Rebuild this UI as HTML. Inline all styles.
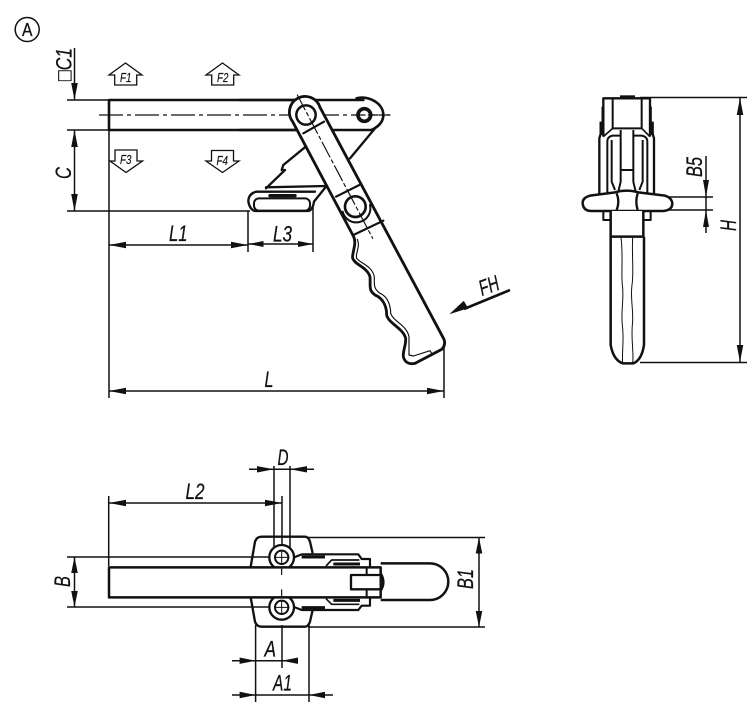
<!DOCTYPE html>
<html><head><meta charset="utf-8"><style>
html,body{margin:0;padding:0;background:#fff}
svg{display:block}
text{font-family:"Liberation Sans",sans-serif;font-style:italic;font-size:22px;fill:#111;stroke:#111;stroke-width:.25px}
.f{font-size:12.500px;stroke-width:.15px}
</style></head><body>
<svg width="750" height="705" viewBox="0 0 750 705" xmlns="http://www.w3.org/2000/svg">
<rect width="750" height="705" fill="#fff"/>
<circle cx="27.200" cy="29.500" r="12" fill="none" stroke="#111" stroke-width="1.500"/>
<text x="22" y="36" textLength="10.500" lengthAdjust="spacingAndGlyphs" style="font-style:normal;font-size:18px">A</text>

<!-- SIDE VIEW dimensions -->
<g stroke="#111" stroke-width="1.500" fill="none">
<path d="M74.500 48V100M74.500 130V211M67 100H109M67 130H109M67 211H250M109 130V398M109 245H248M248 211V252M109 391H444M444 345V398M248 244H313M313 205V252"/>
</g>
<g fill="#111">
<path d="M74.500 100l-3.300-17h6.600zM74.500 130l-3.300 17h6.600zM74.500 211l-3.300-17h6.600z"/>
<path d="M109 245l17-3.200v6.400zM248 245l-17-3.200v6.400zM248.500 244l15-3v6zM313 244l-15-3v6zM109 391l17-3.200v6.400zM444 391l-17-3.200v6.400z"/>
<path d="M449.300 314.300l14.500-13.500 4.200 7.500z"/>
</g>
<path d="M510 290L464 309" stroke="#111" stroke-width="2.600"/>

<!-- force symbols -->
<g fill="#fff" stroke="#111" stroke-width="1.300">
<path d="M125.500 63L109 75H114.700V85H136.700V75H142Z"/>
<path d="M222.500 63L206 75H211.700V85H233.700V75H239Z"/>
<path d="M126 172.500L110 161H115V150H137V161H142.500Z"/>
<path d="M222.500 172.500L206 161H211.500V150.500H233.500V161H239Z"/>
</g>
<text class="f" x="120" y="82" textLength="11.500" lengthAdjust="spacingAndGlyphs">F1</text>
<text class="f" x="217" y="82" textLength="11.500" lengthAdjust="spacingAndGlyphs">F2</text>
<text class="f" x="120" y="164" textLength="11.500" lengthAdjust="spacingAndGlyphs">F3</text>
<text class="f" x="216.500" y="165" textLength="11.500" lengthAdjust="spacingAndGlyphs">F4</text>

<!-- arm left part -->
<path d="M109 100H300M109 130H300M109 99V131" stroke="#111" stroke-width="2.600" fill="none"/>
<path d="M99 115H390" stroke="#111" stroke-width="1.300" stroke-dasharray="24 4 4 4" fill="none"/>

<g transform="translate(240 80) scale(.33333)" fill="none" stroke="#111" stroke-linejoin="round" stroke-linecap="round">
 <!-- base -->
 <path d="M197 200L130 255L125 270L135 270L78 325" stroke-width="7"/>
 <path d="M78 322L258 318" stroke-width="7"/>
 <path d="M405 145L330 235" stroke-width="7"/>
 <path d="M225 335H50Q25 340 25 365Q30 390 45 393H205Q218 390 222 365L258 320" stroke-width="7" fill="#fff"/>
 <rect x="42" y="355" width="168" height="37" rx="15" stroke-width="6" fill="#fff"/>
 <path d="M90 347H165" stroke-width="10"/>
 <!-- arm end -->
 <path d="M0 60H370M0 150H395" stroke-width="7.800"/>
 <path d="M350 55C385 45 430 70 430 105C430 125 415 140 395 150" stroke-width="8"/>
 <circle cx="373" cy="105" r="19" stroke-width="11" fill="#fff"/>
 <path d="M345 105H450" stroke-width="3.500" stroke-dasharray="30 10"/>
 <!-- link + handle -->
 <path d="M158 125A47 47 0 1 1 240 82L612 778Q618 795 605 808L525 850C510 853 495 850 490 830C488 810 498 800 497 775C490 745 445 730 440 705C440 680 430 655 405 645C385 630 392 620 390 590C380 560 345 555 338 535C335 520 352 490 340 468Z" fill="#fff" stroke-width="8.500"/>
 <path d="M352 478C362 500 345 520 350 535C360 550 395 555 403 590C403 615 400 625 420 640C445 650 452 680 452 700C460 725 500 735 507 770L507 825L520 828L570 812L575 820" stroke-width="3.500"/>
 <path d="M190 160L252 125M288 350L358 315M340 465L430 422" stroke-width="6.500"/>
 <circle cx="198" cy="105" r="29" stroke-width="7.500" fill="#fff"/>
 <circle cx="346" cy="380" r="31" stroke-width="8" fill="#fff"/>
 <path d="M308 395A42 42 0 0 0 390 375" stroke-width="6"/>
 <path d="M172 45L398 475" stroke-width="3.500" stroke-dasharray="50 10 10 10"/>
</g>

<text x="169" y="241" textLength="18.500" lengthAdjust="spacingAndGlyphs">L1</text>
<text x="273" y="241.500" textLength="19" lengthAdjust="spacingAndGlyphs">L3</text>
<text x="264.500" y="387" textLength="9" lengthAdjust="spacingAndGlyphs">L</text>
<text transform="translate(482 296) rotate(-20)" textLength="20" lengthAdjust="spacingAndGlyphs">FH</text>
<text transform="translate(71.700 81) rotate(-90)" textLength="33" lengthAdjust="spacingAndGlyphs">□C1</text>
<text transform="translate(71 179) rotate(-90)" textLength="12" lengthAdjust="spacingAndGlyphs">C</text>

<!-- FRONT VIEW -->
<g stroke="#111" stroke-width="1.500" fill="none">
<path d="M640 97.500H747M640 362.500H747M740 98V362M706 156V233M668 197H713M668 210H713"/>
</g>
<g fill="#111">
<path d="M740 98l-3.300 17h6.600zM740 362l-3.300-17h6.600zM706 197l-3-17h6zM706 210l-3 17h6z"/>
</g>
<g transform="translate(570 85) scale(.33333)" fill="none" stroke="#111" stroke-linejoin="round">
 <path d="M100 155V40H240V155M88 330V160L100 120M252 330V160L240 120" stroke-width="7"/>
 <path d="M150 35H195" stroke-width="8"/>
 <path d="M128 40V130H215V40" stroke-width="6"/>
 <path d="M98 65V150M92 110V150M242 65V150M248 110V150" stroke-width="7"/>
 <path d="M100 155L128 130M240 155L215 130" stroke-width="5"/>
 <path d="M112 325V170Q112 155 128 152H150M232 325V170Q232 155 215 152H192" stroke-width="6"/>
 <path d="M125 165V290L135 315M218 165V290L208 315" stroke-width="6"/>
 <path d="M152 135V290L145 320M190 135V290L197 320M152 255H190" stroke-width="6"/>
 <path d="M100 380V405H122M242 380V405H220" stroke-width="6"/>
 <path d="M135 322L60 332Q37 338 38 355Q40 378 65 378H280Q307 375 307 355Q305 338 285 332L205 322Q170 312 135 322Z" stroke-width="7.500" fill="#fff"/>
 <path d="M140 325Q150 350 140 375M203 325Q195 350 203 375" stroke-width="7"/>
 <path d="M122 378V455H220V378" stroke-width="7.500" fill="#fff"/>
 <path d="M122 455V780Q130 825 158 835H190Q215 825 222 780V455" stroke-width="7.500"/>
 <path d="M153 458C160 510 153 560 157 600C163 640 152 680 157 720C163 770 155 800 158 835M188 458C185 510 192 560 186 600C180 640 192 680 187 720C183 770 192 800 188 835" stroke-width="3"/>
</g>
<text transform="translate(702 177) rotate(-90)" textLength="20" lengthAdjust="spacingAndGlyphs">B5</text>
<text transform="translate(736 231) rotate(-90)" textLength="11" lengthAdjust="spacingAndGlyphs">H</text>

<!-- PLAN VIEW dimensions -->
<g stroke="#111" stroke-width="1.500" fill="none">
<path d="M67 557H270M67 607H270M74.500 557V607M108.700 496V566M109 503H282M282 496V548M274 466V548M290 466V548M249 469.300H314M255.600 625V702M282 625V668M309 625V702M232 660.700H298M232 695H333M308 537.500H485M308 627H485M479 537.500V627"/>
</g>
<g fill="#111">
<path d="M74.500 557l-3.300 16h6.600zM74.500 607l-3.300-16h6.600zM109 503l17-3.200v6.400zM282 503l-17-3.200v6.400zM274 469.300l-17-3.200v6.400zM290 469.300l17-3.200v6.400z"/>
<path d="M255.600 660.700l-16-3.200v6.400zM282 660.700l16-3.200v6.400zM255.600 695l-16-3.200v6.400zM309 695l16-3.200v6.400zM479 537.500l-3.300 16h6.600zM479 627l-3.300-16h6.600z"/>
</g>
<g transform="translate(220 520) scale(.33333)" fill="none" stroke="#111" stroke-linejoin="round">
 <path d="M92 140L105 65Q110 50 125 50H255Q265 50 270 65L278 100M92 232L105 305Q110 320 125 320H255Q265 320 270 305L278 270" stroke-width="7"/>
 <path d="M482 130H630A55 55 0 0 1 630 240H482" stroke-width="7.500" fill="#fff"/>
 <path d="M215 115L245 103H415L425 117H450V140M215 258L245 270H415L425 257H450V234" stroke-width="6.500" fill="#fff"/>
 <path d="M245 111H315M245 263H315M340 132H420M340 241H420" stroke-width="9"/>
 <path d="M318 138L335 120H418M318 236L335 253H418" stroke-width="5"/>
 <circle cx="185" cy="112" r="37" stroke-width="7" fill="#fff"/>
 <circle cx="185" cy="262" r="37" stroke-width="7" fill="#fff"/>
 <circle cx="185" cy="112" r="20" stroke-width="6" fill="#fff"/>
 <circle cx="185" cy="262" r="20" stroke-width="6" fill="#fff"/>
 <path d="M162 112H208M185 90V135M162 262H208M185 240V285" stroke-width="3"/>
 <rect x="-333" y="145" width="771" height="84" fill="#fff" stroke="none"/>
 <path d="M-333 142H482V232H-333ZM482 160Q498 187 482 212" stroke-width="7.500"/>
 <path d="M440 142V165M440 208V232" stroke-width="6"/>
 <rect x="393" y="165" width="89" height="43" stroke-width="7" fill="#fff"/>
 <path d="M185 145V165M185 208V232" stroke-width="3.500"/>
</g>
<text x="185.500" y="499" textLength="19" lengthAdjust="spacingAndGlyphs">L2</text>
<text x="277.500" y="465" textLength="11" lengthAdjust="spacingAndGlyphs">D</text>
<text x="264.500" y="656.500" textLength="11.500" lengthAdjust="spacingAndGlyphs">A</text>
<text x="273" y="690.500" textLength="19" lengthAdjust="spacingAndGlyphs">A1</text>
<text transform="translate(70 587) rotate(-90)" textLength="11" lengthAdjust="spacingAndGlyphs">B</text>
<text transform="translate(473 589) rotate(-90)" textLength="20" lengthAdjust="spacingAndGlyphs">B1</text>
</svg>
</body></html>
